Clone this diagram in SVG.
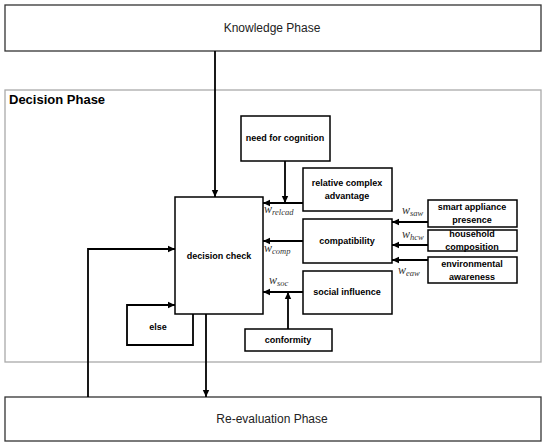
<svg xmlns="http://www.w3.org/2000/svg" width="550" height="445" viewBox="0 0 550 445">
<style>
.phase{fill:#fff;stroke:#333;stroke-width:1.3}
.box{fill:#fff;stroke:#000;stroke-width:1.5}
.pt{font-family:"Liberation Sans",Arial,sans-serif;font-size:12px;fill:#222;text-anchor:middle}
.bt{font-family:"Liberation Sans",Arial,sans-serif;font-size:9px;font-weight:bold;fill:#000;text-anchor:middle}
.w{font-family:"Liberation Serif","Times New Roman",serif;font-style:italic;font-size:12px;fill:#333}
.s{font-size:8.5px}
.c{fill:none;stroke:#000;stroke-width:1.8}
</style>
<defs>
<marker id="ah" markerWidth="8" markerHeight="8" refX="7" refY="4" orient="auto" markerUnits="userSpaceOnUse">
<path d="M0,0.8 L7,4 L0,7.2 Z" fill="#000"/>
</marker>
</defs>
<rect x="0" y="0" width="550" height="445" fill="#fff"/>
<g id="decision-phase">
<rect x="5" y="90" width="536" height="272" fill="#fff" stroke="#aaa" stroke-width="1.3"/>
<text x="9" y="104" font-family="'Liberation Sans',Arial,sans-serif" font-size="13" font-weight="bold" fill="#000">Decision Phase</text>
</g>
<g id="knowledge-phase">
<rect class="phase" x="5" y="5" width="536" height="46"/>
<text class="pt" x="272" y="32">Knowledge Phase</text>
</g>
<g id="reevaluation-phase">
<rect class="phase" x="5" y="397" width="536" height="44"/>
<text class="pt" x="272" y="423">Re-evaluation Phase</text>
</g>
<g id="decision-check">
<rect class="box" x="175" y="197" width="88" height="117"/>
<text class="bt" x="219" y="259">decision check</text>
</g>
<g id="else">
<text class="bt" x="158" y="330">else</text>
</g>
<g id="need-for-cognition">
<rect class="box" x="241" y="116" width="89" height="45"/>
<text class="bt" x="285" y="141">need for cognition</text>
</g>
<g id="relative-complex-advantage">
<rect class="box" x="303" y="168" width="89" height="43"/>
<text class="bt" x="347" y="186">relative complex</text>
<text class="bt" x="347" y="199">advantage</text>
</g>
<g id="compatibility">
<rect class="box" x="303" y="219" width="89" height="44"/>
<text class="bt" x="347" y="244">compatibility</text>
</g>
<g id="social-influence">
<rect class="box" x="303" y="271" width="89" height="43"/>
<text class="bt" x="347" y="295">social influence</text>
</g>
<g id="conformity">
<rect class="box" x="245" y="329" width="87" height="22"/>
<text class="bt" x="288" y="343">conformity</text>
</g>
<g id="smart-appliance-presence">
<rect class="box" x="428" y="200" width="89" height="27"/>
<text class="bt" x="472" y="210">smart appliance</text>
<text class="bt" x="472" y="223">presence</text>
</g>
<g id="household-composition">
<rect class="box" x="428" y="230" width="89" height="21"/>
<text class="bt" x="472" y="237">household</text>
<text class="bt" x="472" y="250">composition</text>
</g>
<g id="environmental-awareness">
<rect class="box" x="428" y="257" width="89" height="26"/>
<text class="bt" x="472" y="267">environmental</text>
<text class="bt" x="472" y="280">awareness</text>
</g>
<g id="connectors">
<line class="c" x1="215" y1="51" x2="215" y2="197" marker-end="url(#ah)"/>
<line class="c" x1="206" y1="314" x2="206" y2="397" marker-end="url(#ah)"/>
<polyline class="c" points="88,397 88,249 175,249" marker-end="url(#ah)"/>
<polyline class="c" points="193,314 193,345 127,345 127,305 175,305" marker-end="url(#ah)"/>
<line class="c" x1="285" y1="161" x2="285" y2="203" marker-end="url(#ah)"/>
<line class="c" x1="303" y1="203" x2="263" y2="203" marker-end="url(#ah)"/>
<line class="c" x1="303" y1="241" x2="263" y2="241" marker-end="url(#ah)"/>
<line class="c" x1="303" y1="292" x2="263" y2="292" marker-end="url(#ah)"/>
<line class="c" x1="288" y1="329" x2="288" y2="292" marker-end="url(#ah)"/>
<line class="c" x1="428" y1="222" x2="392" y2="222" marker-end="url(#ah)"/>
<line class="c" x1="428" y1="245" x2="392" y2="245" marker-end="url(#ah)"/>
<line class="c" x1="428" y1="260" x2="392" y2="260" marker-end="url(#ah)"/>
<text class="w" x="264" y="213">w<tspan class="s" dy="2">relcad</tspan></text>
<text class="w" x="264" y="252">w<tspan class="s" dy="2">comp</tspan></text>
<text class="w" x="269" y="284">w<tspan class="s" dy="2">soc</tspan></text>
<text class="w" x="402" y="214">w<tspan class="s" dy="2">saw</tspan></text>
<text class="w" x="402" y="238">w<tspan class="s" dy="2">hcw</tspan></text>
<text class="w" x="398" y="274">w<tspan class="s" dy="2">eaw</tspan></text>
</g>
</svg>
